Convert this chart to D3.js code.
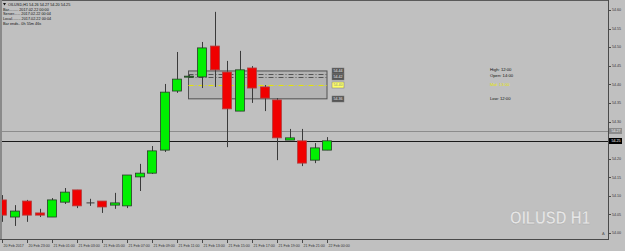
<!DOCTYPE html>
<html>
<head>
<meta charset="utf-8">
<script src="https://cdn.jsdelivr.net/npm/d3@7"></script>
<style>
  html, body { margin: 0; padding: 0; background: #c0c0c0; }
  svg { display: block; }
  text { font-family: "Liberation Sans", Arial, sans-serif; }
</style>
</head>
<body>
<svg class="chart" width="625" height="251"></svg>
<script>
// hourly bars, OILUSD H1
const barTimes = [
  "20 Feb 00:00", "20 Feb 22:00", "20 Feb 23:00", "21 Feb 00:00", "21 Feb 01:00",
  "21 Feb 02:00", "21 Feb 03:00", "21 Feb 04:00", "21 Feb 05:00", "21 Feb 06:00",
  "21 Feb 07:00", "21 Feb 08:00", "21 Feb 09:00", "21 Feb 10:00", "21 Feb 11:00",
  "21 Feb 12:00", "21 Feb 13:00", "21 Feb 14:00", "21 Feb 15:00", "21 Feb 16:00",
  "21 Feb 17:00", "21 Feb 18:00", "21 Feb 19:00", "21 Feb 20:00", "21 Feb 21:00",
  "21 Feb 23:00", "22 Feb 00:00"
]
const opens  = [54.089, 54.043, 54.086, 54.054, 54.043, 54.083, 54.116, 54.081, 54.086, 54.075,
                54.073, 54.151, 54.161, 54.223, 54.382, 54.420, 54.420, 54.503, 54.433, 54.328,
                54.444, 54.393, 54.358, 54.250, 54.248, 54.196, 54.223]
const highs  = [54.102, 54.075, 54.089, 54.065, 54.094, 54.121, 54.116, 54.092, 54.086, 54.108,
                54.156, 54.186, 54.234, 54.401, 54.487, 54.425, 54.514, 54.595, 54.463, 54.490,
                54.449, 54.398, 54.363, 54.280, 54.280, 54.242, 54.258]
const lows   = [54.030, 54.019, 54.030, 54.043, 54.043, 54.078, 54.067, 54.073, 54.054, 54.065,
                54.067, 54.113, 54.159, 54.218, 54.377, 54.417, 54.390, 54.393, 54.231, 54.328,
                54.350, 54.328, 54.196, 54.250, 54.180, 54.188, 54.223]
const closes = [54.048, 54.059, 54.048, 54.048, 54.089, 54.110, 54.073, 54.081, 54.070, 54.081,
                54.156, 54.161, 54.221, 54.379, 54.414, 54.422, 54.498, 54.439, 54.334, 54.439,
                54.390, 54.363, 54.256, 54.256, 54.188, 54.229, 54.248]

const tickIndex  = [0, 2, 4, 6, 8, 10, 12, 14, 16, 18, 20, 22, 24, 26]
const tickLabels = ["20 Feb 2017", "20 Feb 23:00", "21 Feb 01:00", "21 Feb 03:00", "21 Feb 05:00",
                    "21 Feb 07:00", "21 Feb 09:00", "21 Feb 11:00", "21 Feb 13:00", "21 Feb 15:00",
                    "21 Feb 17:00", "21 Feb 19:00", "21 Feb 21:00", "22 Feb 00:00"]
const priceTicks = [54.60, 54.55, 54.50, 54.45, 54.40, 54.35, 54.30, 54.20, 54.15, 54.10, 54.05, 54.00]

// range box (indicator) and price lines
const rangeFrom = 15, rangeTo = 26
const rangeHigh = 54.436, rangeLow = 54.361, rangeOpen = 54.428, rangeOpen2 = 54.420
const rangeMid = (rangeHigh + rangeLow) / 2
const askPrice = 54.274
const bidPrice = 54.248

const infoLines = [
  "Bar......... 2017.02.22 00:00",
  "Server...... 2017.02.22 00:04",
  "Local........ 2017.02.22 00:04",
  "Bar ends.. 0h 55m 46s"
]

const svg = d3.select("svg.chart")
const plotW = 608, plotH = 239

const x = d3.scaleLinear().domain([0, 26]).range([2, 327])
const y = d3.scaleLinear().domain([54.00, 54.60]).range([233, 10])

svg.append("defs").append("clipPath").attr("id", "plot")
  .append("rect").attr("x", 2).attr("y", 2).attr("width", plotW - 2).attr("height", plotH - 2)

// frame
svg.append("rect")
  .attr("x", 0.5).attr("y", 0.5)
  .attr("width", plotW).attr("height", plotH)
  .attr("fill", "#c0c0c0")
  .attr("stroke", "#5a5a5a")
  .attr("stroke-width", 1)
svg.append("rect").attr("x", 0).attr("y", 0).attr("width", 2).attr("height", plotH + 1).attr("fill", "#8a8a8a")

const plot = svg.append("g").attr("clip-path", "url(#plot)")

// range box
plot.append("rect")
  .attr("x", x(rangeFrom) - 1)
  .attr("y", y(rangeHigh))
  .attr("width", x(rangeTo) - x(rangeFrom) + 1)
  .attr("height", y(rangeLow) - y(rangeHigh))
  .attr("fill", "#a8a8a8")
  .attr("fill-opacity", 0.55)
  .attr("stroke", "#505050")
  .attr("stroke-width", 1)

const boxLines = [
  { v: rangeOpen, c: "#555555" },
  { v: rangeOpen2, c: "#555555" },
  { v: rangeMid, c: "#e6e600" }
]
plot.selectAll("line.box")
  .data(boxLines)
  .enter()
  .append("line")
  .attr("x1", x(rangeFrom) - 1).attr("x2", x(rangeTo))
  .attr("y1", d => Math.round(y(d.v)) + 0.5).attr("y2", d => Math.round(y(d.v)) + 0.5)
  .attr("stroke", d => d.c)
  .attr("stroke-width", 1)
  .attr("stroke-dasharray", "5,2,1,2")

// ask / bid lines
plot.append("line")
  .attr("x1", 0).attr("x2", plotW)
  .attr("y1", Math.round(y(askPrice)) + 0.5).attr("y2", Math.round(y(askPrice)) + 0.5)
  .attr("stroke", "#8c8c8c")
plot.append("line")
  .attr("x1", 0).attr("x2", plotW)
  .attr("y1", Math.round(y(bidPrice)) + 0.5).attr("y2", Math.round(y(bidPrice)) + 0.5)
  .attr("stroke", "#1a1a1a")

// candles
const bars = d3.range(barTimes.length).map(i => ({
  t: barTimes[i], o: opens[i], h: highs[i], l: lows[i], c: closes[i], i: i
}))

const candles = plot.selectAll("g.candle")
  .data(bars)
  .enter()
  .append("g")
  .attr("transform", d => `translate(${Math.round(x(d.i)) + 0.5},0)`)

candles.append("line")
  .attr("y1", d => y(d.h)).attr("y2", d => y(d.l))
  .attr("stroke", "#3a3a3a")
  .attr("stroke-width", 1)

candles.append("rect")
  .attr("x", -5)
  .attr("width", 9)
  .attr("y", d => y(Math.max(d.o, d.c)))
  .attr("height", d => Math.max(1, y(Math.min(d.o, d.c)) - y(Math.max(d.o, d.c))))
  .attr("fill", d => d.c >= d.o ? "#00f000" : "#f00000")
  .attr("stroke", d => d.c >= d.o ? "#2a3a2a" : "#b04040")
  .attr("stroke-width", 0.8)
  .attr("display", d => d.c === d.o ? "none" : null)

candles.filter(d => d.c === d.o)
  .append("line")
  .attr("x1", -4).attr("x2", 4)
  .attr("y1", d => y(d.o)).attr("y2", d => y(d.o))
  .attr("stroke", "#3a3a3a")

// right price axis
svg.append("line")
  .attr("x1", plotW + 0.5).attr("x2", plotW + 0.5)
  .attr("y1", 0).attr("y2", plotH + 1)
  .attr("stroke", "#4a4a4a")

const yAxis = svg.append("g")
yAxis.selectAll("line")
  .data(priceTicks)
  .enter()
  .append("line")
  .attr("x1", plotW).attr("x2", plotW + 3)
  .attr("y1", d => Math.round(y(d)) + 0.5).attr("y2", d => Math.round(y(d)) + 0.5)
  .attr("stroke", "#4a4a4a")
yAxis.selectAll("text")
  .data(priceTicks)
  .enter()
  .append("text")
  .attr("x", plotW + 4)
  .attr("y", d => y(d) + 1.3)
  .attr("font-size", 3.6)
  .attr("fill", "#333")
  .text(d => d.toFixed(2))

// price labels on axis
const priceBoxes = [
  { v: askPrice, fill: "#8c8c8c", txt: "#f0f0f0" },
  { v: bidPrice, fill: "#000000", txt: "#ffffff" }
]
const pb = svg.selectAll("g.pbox")
  .data(priceBoxes)
  .enter()
  .append("g")
  .attr("transform", d => `translate(${plotW + 1},${Math.round(y(d.v))})`)
pb.append("rect")
  .attr("x", 0).attr("y", -3).attr("width", 13).attr("height", 6)
  .attr("fill", d => d.fill)
pb.append("text")
  .attr("x", 2.5).attr("y", 1.3)
  .attr("font-size", 3.6)
  .attr("fill", d => d.txt)
  .text(d => d.v.toFixed(2))

// range box price tags
const tags = [
  { v: rangeHigh, fill: "#555", txt: "#eee" },
  { v: rangeOpen2, fill: "#555", txt: "#eee" },
  { v: rangeMid, fill: "#ffff66", txt: "#888" },
  { v: rangeLow, fill: "#555", txt: "#eee" }
]
const tg = svg.selectAll("g.tag")
  .data(tags)
  .enter()
  .append("g")
  .attr("transform", d => `translate(${x(rangeTo) + 5},${Math.round(y(d.v))})`)
tg.append("rect")
  .attr("x", 0).attr("y", -3).attr("width", 12).attr("height", 6)
  .attr("fill", d => d.fill)
  .attr("stroke", "#777").attr("stroke-width", 0.5)
tg.append("text")
  .attr("x", 1.5).attr("y", 1.3)
  .attr("font-size", 3.6)
  .attr("fill", d => d.txt)
  .text(d => d.v.toFixed(2))

// range text block (labels sit just off their price level so they do not collide)
const rangeText = [
  { t: "High: 12:00", v: rangeHigh, dy: 0, c: "#111" },
  { t: "Open: 14:00", v: rangeOpen, dy: 3, c: "#111" },
  { t: "Mid: 13:00", v: rangeMid, dy: 1.5, c: "#e6e600" },
  { t: "Low: 12:00", v: rangeLow, dy: 1.5, c: "#111" }
]
svg.selectAll("text.rtext")
  .data(rangeText)
  .enter()
  .append("text")
  .attr("x", 490)
  .attr("y", d => y(d.v) + d.dy)
  .attr("font-size", 4.2)
  .attr("fill", d => d.c)
  .text(d => d.t)

// time axis
svg.append("line")
  .attr("x1", 0).attr("x2", plotW + 1)
  .attr("y1", plotH + 0.5).attr("y2", plotH + 0.5)
  .attr("stroke", "#4a4a4a")
const xAxis = svg.append("g")
xAxis.selectAll("line")
  .data(tickIndex)
  .enter()
  .append("line")
  .attr("x1", d => Math.round(x(d)) + 0.5).attr("x2", d => Math.round(x(d)) + 0.5)
  .attr("y1", plotH).attr("y2", plotH + 4)
  .attr("stroke", "#4a4a4a")
xAxis.selectAll("text")
  .data(tickIndex)
  .enter()
  .append("text")
  .attr("x", d => x(d) + 1.5)
  .attr("y", 247)
  .attr("font-size", 3.6)
  .attr("fill", "#333")
  .text((d, i) => tickLabels[i])

// info block
svg.append("path")
  .attr("d", "M3,3 L6,3 L4.5,5.5 Z")
  .attr("fill", "#111")
svg.append("text")
  .attr("x", 8).attr("y", 5.5)
  .attr("font-size", 3.8)
  .attr("fill", "#111")
  .text("OILUSD,H1  54.26 54.27 54.20 54.25")
svg.selectAll("text.info")
  .data(infoLines)
  .enter()
  .append("text")
  .attr("x", 3)
  .attr("y", (d, i) => [10.5, 15, 19.5, 25][i])
  .attr("font-size", 3.8)
  .attr("fill", "#111")
  .text(d => d)

// watermark
svg.append("text")
  .attr("x", 510).attr("y", 224)
  .attr("font-size", 19)
  .attr("font-weight", "bold")
  .attr("fill", "#e6e6e6")
  .attr("stroke", "#a8a8a8")
  .attr("stroke-width", 0.4)
  .attr("textLength", 80)
  .attr("lengthAdjust", "spacingAndGlyphs")
  .text("OILUSD H1")

svg.append("text")
  .attr("x", 602).attr("y", 235)
  .attr("font-size", 4)
  .attr("fill", "#555")
  .text("A")
</script>
</body>
</html>
